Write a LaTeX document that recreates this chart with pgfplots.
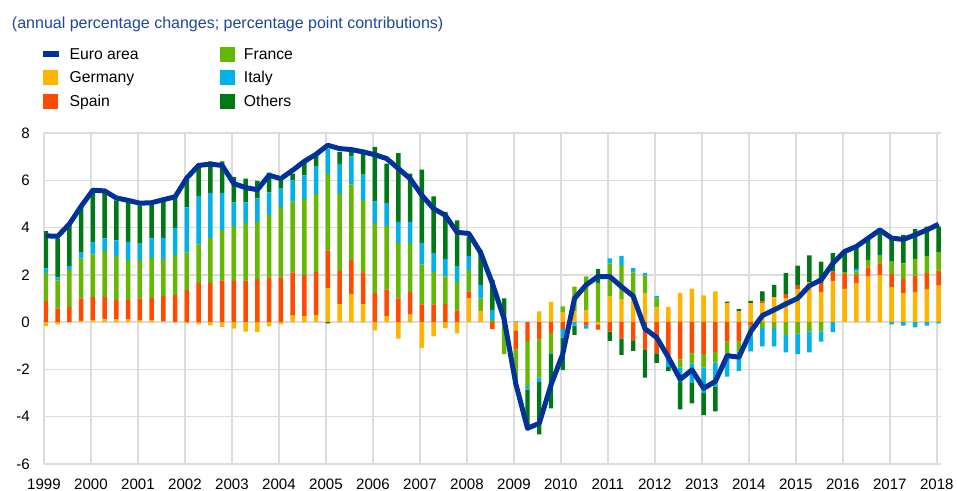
\documentclass[border=0pt]{standalone}
\usepackage{pgfplots}
\pgfplotsset{compat=1.18}
\usepackage{pgfplotstable}
\usepackage{fontspec}
\setmainfont{Liberation Sans}
\definecolor{ecbblue}{HTML}{003299}
\definecolor{ger}{HTML}{FFB400}
\definecolor{spa}{HTML}{FF4B00}
\definecolor{fra}{HTML}{65B800}
\definecolor{ita}{HTML}{00B1EA}
\definecolor{oth}{HTML}{007816}
\definecolor{titleblue}{HTML}{1E46A0}
\definecolor{gridgray}{HTML}{DCDCDC}

\pgfplotstableread{
x G S F I O EA
1999.00 -0.17 0.90 1.18 0.19 1.58 3.65
1999.25 -0.10 0.58 1.19 0.12 1.65 3.63
1999.50 0.00 0.65 1.55 0.17 1.73 4.15
1999.75 0.05 0.95 1.69 0.25 1.93 4.90
2000.00 0.10 0.97 1.80 0.52 2.19 5.58
2000.25 0.12 0.95 1.94 0.53 1.96 5.55
2000.50 0.12 0.81 1.87 0.66 1.69 5.25
2000.75 0.12 0.81 1.69 0.77 1.69 5.15
2001.00 0.10 0.90 1.62 0.70 1.62 5.03
2001.25 0.08 0.95 1.69 0.82 1.43 5.05
2001.50 0.03 1.07 1.56 0.90 1.59 5.18
2001.75 0.00 1.14 1.69 1.16 1.31 5.30
2002.00 -0.05 1.35 1.59 1.91 1.22 6.10
2002.25 -0.08 1.66 1.62 2.06 1.29 6.63
2002.50 -0.14 1.66 1.90 1.90 1.34 6.68
2002.75 -0.20 1.77 2.12 1.57 1.34 6.63
2003.00 -0.27 1.75 2.31 1.01 1.07 5.86
2003.25 -0.40 1.77 2.43 0.87 1.00 5.69
2003.50 -0.42 1.82 2.41 1.00 0.74 5.60
2003.75 -0.18 1.89 2.65 0.95 0.83 6.21
2004.00 -0.08 1.89 2.98 0.78 0.35 6.07
2004.25 0.28 1.82 3.00 0.90 0.28 6.42
2004.50 0.25 1.75 3.20 1.01 0.56 6.80
2004.75 0.30 1.81 3.31 1.16 0.55 7.10
2005.00 1.43 1.61 3.23 1.07 -0.05 7.48
2005.25 0.75 1.42 3.25 1.27 0.51 7.34
2005.50 1.20 1.42 3.20 1.19 0.19 7.30
2005.75 0.75 1.33 3.09 1.07 0.96 7.20
2006.00 -0.35 1.24 2.96 0.91 2.30 7.08
2006.25 0.25 1.13 2.69 0.94 1.69 6.92
2006.50 -0.70 1.00 2.35 0.89 2.91 6.50
2006.75 0.32 0.96 2.07 0.89 2.04 6.07
2007.00 -1.10 0.75 1.69 0.91 3.10 5.37
2007.25 -0.60 0.75 1.38 0.80 2.39 4.80
2007.50 -0.25 0.76 1.18 0.72 2.00 4.52
2007.75 -0.48 0.50 1.20 0.67 1.93 3.80
2008.00 1.00 0.30 0.90 0.60 0.80 3.75
2008.25 0.48 0.00 0.53 0.57 1.45 2.95
2008.50 0.00 -0.30 0.10 0.42 1.27 1.65
2008.75 0.00 0.00 -1.35 0.10 0.90 0.15
2009.00 -0.35 -0.80 -1.57 0.03 0.00 -2.60
2009.25 0.00 -0.80 -1.90 -0.15 -1.64 -4.49
2009.50 0.46 -0.73 -1.62 -0.19 -2.21 -4.28
2009.75 0.86 -0.45 -0.85 -0.05 -2.30 -2.65
2010.00 0.42 -0.30 0.25 -0.35 -1.38 -1.35
2010.25 0.45 0.00 1.05 -0.15 -0.39 1.00
2010.50 0.52 -0.15 1.38 -0.12 0.03 1.58
2010.75 -0.10 -0.22 1.65 0.00 0.59 1.93
2011.00 1.08 -0.40 1.41 0.21 -0.39 1.93
2011.25 0.97 -0.70 1.45 0.38 -0.68 1.50
2011.50 1.08 -0.79 1.02 0.18 -0.43 1.10
2011.75 1.21 -1.18 0.76 0.10 -1.17 -0.28
2012.00 0.62 -1.32 0.38 0.11 -0.40 -0.65
2012.25 0.65 -1.54 0.00 -0.35 -0.18 -1.50
2012.50 1.24 -1.58 -0.34 -0.60 -1.17 -2.42
2012.75 1.42 -1.32 -0.43 -0.80 -0.89 -2.02
2013.00 1.13 -1.35 -0.57 -1.08 -0.93 -2.80
2013.25 1.30 -1.27 -0.43 -1.02 -1.05 -2.50
2013.50 0.80 -0.82 -0.49 -0.99 0.07 -1.42
2013.75 0.45 -0.82 -0.42 -0.82 0.10 -1.48
2014.00 0.80 -0.15 -0.45 -0.64 0.10 -0.40
2014.25 0.80 0.07 -0.25 -0.78 0.43 0.28
2014.50 1.06 0.00 -0.28 -0.75 0.52 0.52
2014.75 1.01 0.17 -0.54 -0.74 0.89 0.77
2015.00 1.39 0.15 -0.49 -0.86 0.85 1.01
2015.25 1.69 0.00 -0.39 -0.89 1.13 1.54
2015.50 1.27 0.38 -0.39 -0.43 0.91 1.79
2015.75 1.72 0.42 0.00 -0.42 0.78 2.49
2016.00 1.41 0.63 0.07 0.00 0.88 2.99
2016.25 1.65 0.35 0.14 0.11 0.88 3.20
2016.50 1.93 0.39 0.31 0.00 0.87 3.55
2016.75 2.00 0.49 0.31 0.05 1.05 3.90
2017.00 1.48 0.55 0.53 -0.10 0.99 3.55
2017.25 1.23 0.59 0.67 -0.15 1.20 3.50
2017.50 1.27 0.70 0.71 -0.22 1.25 3.69
2017.75 1.37 0.70 0.70 -0.15 1.27 3.90
2018.00 1.54 0.64 0.76 -0.05 1.10 4.14
}\data

\pgfplotsset{
  base/.style={
    scale only axis, width=672.75pt, height=248.25pt,
    xmin=1999, xmax=2018.09, ymin=-6, ymax=8,
    /pgf/number format/1000 sep={},
    /pgf/number format/assume math mode=true,
  },
  barset/.style={ybar stacked, bar width=0.095},
  sqleg/.style={legend image code/.code={\fill[#1] (0pt,-5.25pt) rectangle (10.5pt,5.25pt); \path[draw=none,fill=none] (0pt,0pt) -- (12pt,0pt);}},
}

\begin{document}
\begin{tikzpicture}
\useasboundingbox (-33pt,-20.25pt) rectangle (684.75pt,348pt);
% positive contributions, grid and ticks
\begin{axis}[base, barset,
  grid=major, grid style={gridgray, line width=1.1pt},
  axis line style={draw=none}, major tick length=0pt, tick style={draw=none},
  xtick={1999,2000,...,2018}, ytick={-6,-4,...,8},
  tick label style={font=\fontsize{11.3}{13}\selectfont, inner sep=0pt},
  xticklabel style={yshift=-10.7pt},
  yticklabel style={xshift=-10.5pt},
]
\addplot[fill=ger, draw=none] table[x expr=\thisrow{x}+0.04, y expr={max(\thisrow{G},0)}] {\data};
\addplot[fill=spa, draw=none] table[x expr=\thisrow{x}+0.04, y expr={max(\thisrow{S},0)}] {\data};
\addplot[fill=fra, draw=none] table[x expr=\thisrow{x}+0.04, y expr={max(\thisrow{F},0)}] {\data};
\addplot[fill=ita, draw=none] table[x expr=\thisrow{x}+0.04, y expr={max(\thisrow{I},0)}] {\data};
\addplot[fill=oth, draw=none] table[x expr=\thisrow{x}+0.04, y expr={max(\thisrow{O},0)}] {\data};
\end{axis}
% negative contributions
\begin{axis}[base, barset, hide axis]
\addplot[fill=ger, draw=none] table[x expr=\thisrow{x}+0.04, y expr={min(\thisrow{G},0)}] {\data};
\addplot[fill=spa, draw=none] table[x expr=\thisrow{x}+0.04, y expr={min(\thisrow{S},0)}] {\data};
\addplot[fill=fra, draw=none] table[x expr=\thisrow{x}+0.04, y expr={min(\thisrow{F},0)}] {\data};
\addplot[fill=ita, draw=none] table[x expr=\thisrow{x}+0.04, y expr={min(\thisrow{I},0)}] {\data};
\addplot[fill=oth, draw=none] table[x expr=\thisrow{x}+0.04, y expr={min(\thisrow{O},0)}] {\data};
\end{axis}
% euro area line and legend
\begin{axis}[base, hide axis,
  legend columns=2, legend cell align=left,
  legend style={at={(-0.0045,1.2608)}, anchor=north west, draw=none, fill=none,
    inner sep=0pt, outer sep=0pt, row sep=6.7pt,
    nodes={inner sep=0pt, text height=9.6pt, text depth=1.2pt, font=\fontsize{11.8}{14}\selectfont},
    /tikz/every odd column/.style={column sep=5.75pt},
    /tikz/every even column/.style={column sep=61pt}},
]
\addplot[ecbblue, line width=3.75pt, line join=round, forget plot] table[x expr=\thisrow{x}+0.04, y=EA] {\data};
\addlegendimage{legend image code/.code={\draw[ecbblue, line width=4.5pt] (0pt,0pt) -- (12pt,0pt);}}
\addlegendentry{Euro area}
\addlegendimage{sqleg=fra}
\addlegendentry{France}
\addlegendimage{sqleg=ger}
\addlegendentry{Germany}
\addlegendimage{sqleg=ita}
\addlegendentry{Italy}
\addlegendimage{sqleg=spa}
\addlegendentry{Spain}
\addlegendimage{sqleg=oth}
\addlegendentry{Others}
\end{axis}
\node[anchor=base west, inner sep=0pt, text=titleblue, font=\fontsize{12}{14}\selectfont] at (-24.2pt,326.5pt) {(annual percentage changes; percentage point contributions)};
\end{tikzpicture}
\end{document}
